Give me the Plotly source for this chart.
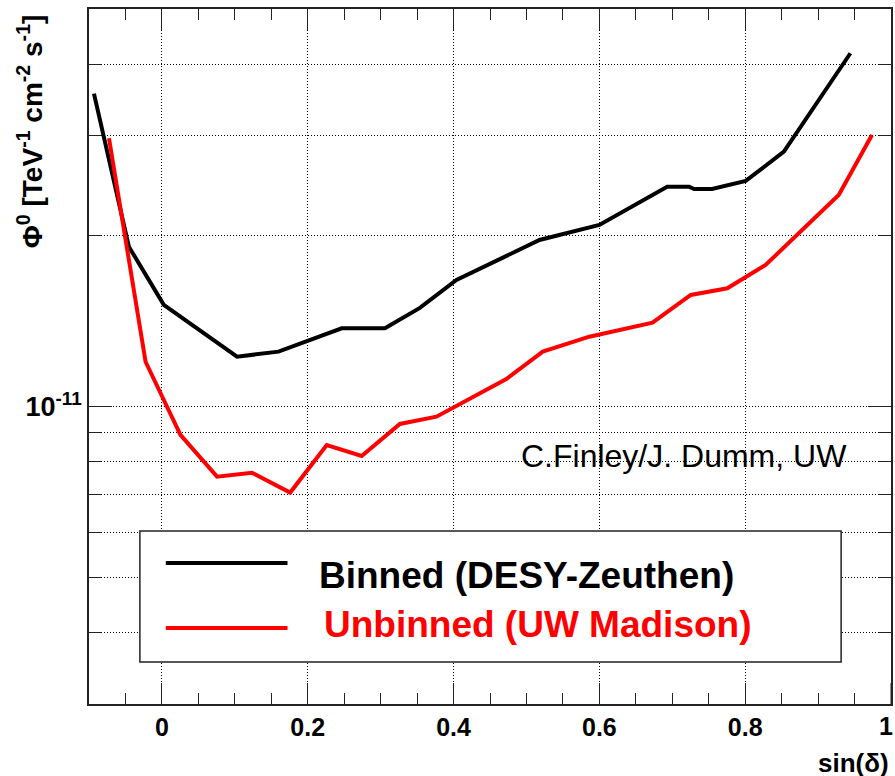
import plotly.graph_objects as go
import math

# ---- data ----
sin_dec_binned = [-0.0932, -0.0453, 0.0026, 0.1030, 0.1599, 0.2466, 0.3059, 0.3538,
                  0.4040, 0.5179, 0.6000, 0.6930, 0.7231, 0.7299, 0.7546, 0.8007,
                  0.8531, 0.9443]
flux_binned = [3.55e-11, 1.91e-11, 1.51e-11, 1.224e-11, 1.249e-11, 1.373e-11, 1.373e-11,
               1.491e-11, 1.670e-11, 1.963e-11, 2.086e-11, 2.436e-11, 2.436e-11,
               2.413e-11, 2.413e-11, 2.493e-11, 2.806e-11, 4.18e-11]

sin_dec_unbinned = [-0.0726, -0.0224, 0.0254, 0.0756, 0.1235, 0.1759, 0.2261, 0.2740,
                    0.3264, 0.3766, 0.4724, 0.5224, 0.5863, 0.6729, 0.7254, 0.7755,
                    0.8280, 0.8781, 0.9283, 0.9739]
flux_unbinned = [2.963e-11, 1.199e-11, 8.92e-12, 7.53e-12, 7.65e-12, 7.06e-12, 8.56e-12,
                 8.19e-12, 9.32e-12, 9.60e-12, 1.118e-11, 1.249e-11, 1.327e-11,
                 1.405e-11, 1.571e-11, 1.614e-11, 1.774e-11, 2.044e-11, 2.355e-11,
                 3.003e-11]

series_names = ["Binned (DESY-Zeuthen)", "Unbinned (UW Madison)"]
x_tick_vals = [0, 0.2, 0.4, 0.6, 0.8]
x_tick_text = ["0", "0.2", "0.4", "0.6", "0.8"]
x_edge_label = "1"
y_major_ticks = [1e-11]
y_major_text = ["10<sup>-11</sup>"]
y_minor_ticks = [4e-12, 5e-12, 6e-12, 7e-12, 8e-12, 9e-12, 2e-11, 3e-11, 4e-11]
x_range = [-0.1, 1.0]
y_range = [3e-12, 5e-11]

# ---- layout geometry (pixels) ----
W, H = 895, 776
L, R, T, B = 89, 893, 9, 704
pw, ph = R - L, B - T


def px(xp):
    return (xp - L) / pw


def py(yp):
    return (B - yp) / ph


FONT = "Liberation Sans, Arial, Helvetica, sans-serif"
GRID = "1px,2px"

fig = go.Figure()
fig.add_trace(go.Scatter(x=sin_dec_binned, y=flux_binned, mode="lines",
                         line=dict(color="black", width=4), name=series_names[0],
                         showlegend=False))
fig.add_trace(go.Scatter(x=sin_dec_unbinned, y=flux_unbinned, mode="lines",
                         line=dict(color="#ff0000", width=4), name=series_names[1],
                         showlegend=False))

fig.update_layout(
    width=W, height=H,
    margin=dict(l=L, r=W - R, t=T, b=H - B, pad=0),
    paper_bgcolor="white", plot_bgcolor="white",
    showlegend=False,
    xaxis=dict(
        range=x_range, tickmode="array", tickvals=x_tick_vals, ticktext=x_tick_text,
        ticks="inside", ticklen=21,
        tickwidth=1, tickcolor="#222", showline=True, linecolor="#222",
        linewidth=1.5, mirror="ticks", showgrid=True, gridcolor="#000",
        gridwidth=1, griddash=GRID, zeroline=False,
        tickfont=dict(family=FONT, size=25, color="black", weight="bold"),
        minor=dict(dtick=0.05, tick0=0, ticks="inside", ticklen=11,
                   tickcolor="#222", tickwidth=1, showgrid=False),
    ),
    yaxis=dict(
        type="log", range=[math.log10(y_range[0]), math.log10(y_range[1])],
        tickmode="array", tickvals=y_major_ticks, ticktext=y_major_text,
        ticks="inside", ticklen=23, tickwidth=1, tickcolor="#222",
        showline=True, linecolor="#222", linewidth=1.5, mirror="ticks",
        showgrid=True, gridcolor="#000", gridwidth=1, griddash=GRID,
        zeroline=False,
        tickfont=dict(family=FONT, size=27, color="black", weight="bold"),
        minor=dict(tickmode="array", tickvals=y_minor_ticks, ticks="inside",
                   ticklen=12, tickcolor="#222", tickwidth=1, showgrid=True,
                   gridcolor="#000", gridwidth=1, griddash=GRID),
    ),
)

# major tick at the right edge (x = 1), drawn as a data-anchored line
fig.add_shape(type="line", xref="x", yref="paper", x0=x_range[1], x1=x_range[1],
              y0=0, y1=21 / ph, line=dict(color="#222", width=1))

# legend box and sample lines
fig.add_shape(type="rect", xref="paper", yref="paper",
              x0=px(140), x1=px(843), y0=py(662), y1=py(531),
              fillcolor="white", line=dict(color="#222", width=1.5), layer="above")
fig.add_shape(type="line", xref="paper", yref="paper",
              x0=px(166), x1=px(288), y0=py(563), y1=py(563),
              line=dict(color="black", width=4), layer="above")
fig.add_shape(type="line", xref="paper", yref="paper",
              x0=px(166), x1=px(288), y0=py(628), y1=py(628),
              line=dict(color="#ff0000", width=4), layer="above")

annos = [
    dict(text=series_names[0], x=px(318), y=py(575), xanchor="left", yanchor="middle",
         font=dict(family=FONT, size=37, color="black", weight="bold")),
    dict(text=series_names[1], x=px(323), y=py(624), xanchor="left", yanchor="middle",
         font=dict(family=FONT, size=37, color="#ff0000", weight="bold")),
    dict(text="C.Finley/J. Dumm, UW", x=px(520), y=py(456), xanchor="left",
         yanchor="middle", font=dict(family=FONT, size=32, color="black")),
    dict(text="sin(δ)", x=1.0, y=py(763), xanchor="right", yanchor="middle",
         font=dict(family=FONT, size=26, color="black", weight="bold")),
    dict(text=x_edge_label, x=px(897), y=py(726), xanchor="right", yanchor="middle",
         font=dict(family=FONT, size=25, color="black", weight="bold")),
    dict(text="Φ<sup>0</sup> [TeV<sup>-1</sup> cm<sup>-2</sup> s<sup>-1</sup>]",
         x=px(30), y=py(131), xanchor="center", yanchor="middle", textangle=-90,
         font=dict(family=FONT, size=28, color="black", weight="bold")),
]
for a in annos:
    fig.add_annotation(xref="paper", yref="paper", showarrow=False, **a)

fig.write_html("out.html")
